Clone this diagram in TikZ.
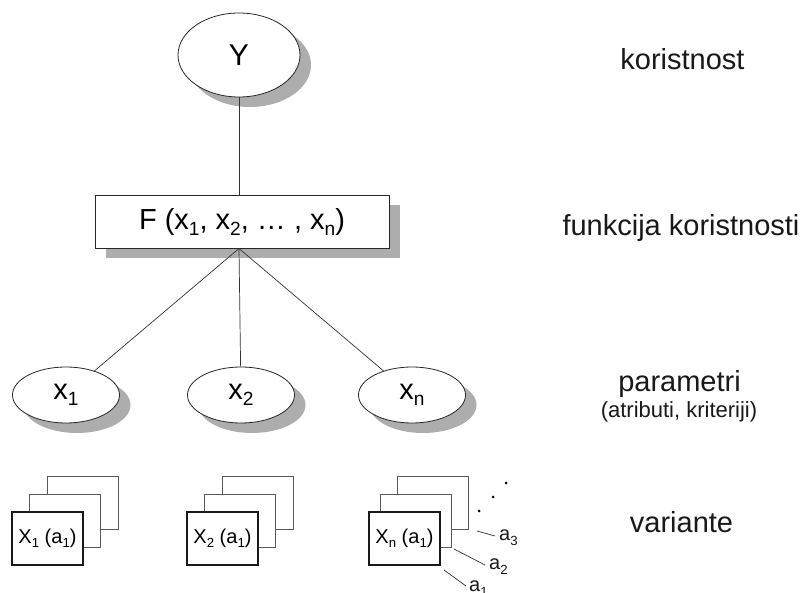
\documentclass[tikz,border=0pt]{standalone}
\usepackage{fontspec}
\setmainfont{Liberation Sans}
\usetikzlibrary{shapes.geometric,shadows}
\newcommand\sbs[1]{\raisebox{-0.22em}{\scalebox{0.66}{#1}}}
\tikzset{
  shad/.style={drop shadow={shadow xshift=11pt,shadow yshift=-10pt,fill=black!32,opacity=1}},
  ell/.style={ellipse,draw=black!85,line width=0.8pt,fill=white,shad,inner sep=0pt,
    minimum width=107pt,minimum height=56pt,font=\fontsize{29}{32}\selectfont},
  fbox/.style={rectangle,draw=black!85,line width=0.8pt,fill=white,shad,inner sep=0pt,
    minimum width=294pt,minimum height=53pt,font=\fontsize{29}{32}\selectfont},
  conn/.style={draw=black!80,line width=0.7pt},
  backcard/.style={rectangle,draw=black!65,line width=0.9pt,fill=white,minimum width=71pt,minimum height=53pt,inner sep=0pt},
  frontcard/.style={rectangle,draw=black!90,line width=1.4pt,fill=white,minimum width=71pt,minimum height=53pt,inner sep=0pt,
    font=\fontsize{20}{22}\selectfont},
  rlab/.style={anchor=base,font=\fontsize{29}{32}\selectfont,text=black!90},
  slab/.style={anchor=base,font=\fontsize{22}{24}\selectfont,text=black!90},
  alab/.style={anchor=base west,font=\fontsize{20}{22}\selectfont,inner sep=0pt,text=black!90},
  tick/.style={draw=black!80,line width=0.7pt},
  dotc/.style={circle,fill=black,inner sep=0pt,minimum size=3pt}
}
\begin{document}
\begin{tikzpicture}[x=1pt,y=-1pt]
\useasboundingbox[fill=white] (0,0) rectangle (804,593);
% main nodes
\node[ell,minimum width=122pt,minimum height=84pt,font=\fontsize{30}{32}\selectfont] (Y) at (239,55) {Y};
\node[fbox] (F) at (242,222) {F (x\sbs{1}, x\sbs{2}, \dots\ , x\sbs{n})};
\node[ell] (x1) at (66,395) {x\sbs{1}};
\node[ell] (x2) at (241,395) {x\sbs{2}};
\node[ell] (xn) at (412,395) {x\sbs{n}};
% connectors
\draw[conn] (Y.south) -- (239,195.5) coordinate (Ftop);
\draw[conn] (239,248.5) coordinate (Fbot) -- (x1);
\draw[conn] (Fbot) -- (x2);
\draw[conn] (Fbot) -- (xn);
% cards group 1
\node[backcard] (c1c) at (82.5,502.5) {};
\node[backcard] (c1b) at (65,520.5) {};
\node[frontcard] (c1a) at (47.5,538.5) {X\sbs{1} (a\sbs{1})};
% cards group 2
\node[backcard] (c2c) at (257.5,502.5) {};
\node[backcard] (c2b) at (240,520.5) {};
\node[frontcard] (c2a) at (222.5,538.5) {X\sbs{2} (a\sbs{1})};
% cards group n
\node[backcard] (cnc) at (432.5,502.5) {};
\node[backcard] (cnb) at (416,520.5) {};
\node[frontcard] (cna) at (404.5,538.5) {X\sbs{n} (a\sbs{1})};
% dots
\node[dotc] (d1) at (479,511) {};
\node[dotc] (d2) at (493,497) {};
\node[dotc] (d3) at (506,483) {};
% a labels
\node[alab] (a3) at (499,541) {a\sbs{3}};
\node[alab] (a2) at (489,570) {a\sbs{2}};
\node[alab] (a1) at (469,592) {a\sbs{1}};
\coordinate (t3s) at (477,531); \coordinate (t3e) at (495,536);
\coordinate (t2s) at (454,549); \coordinate (t2e) at (485,565);
\coordinate (t1s) at (444,570); \coordinate (t1e) at (466,586);
\draw[tick] (t3s) -- (t3e);
\draw[tick] (t2s) -- (t2e);
\draw[tick] (t1s) -- (t1e);
% right labels
\node[rlab] (l1) at (682.5,70) {koristnost};
\node[rlab] (l2) at (681,236) {funkcija koristnosti};
\node[rlab] (l3) at (679.5,392) {parametri};
\node[slab] (l3b) at (679,418) {(atributi, kriteriji)};
\node[rlab] (l4) at (681.5,533) {variante};
\end{tikzpicture}
\end{document}
